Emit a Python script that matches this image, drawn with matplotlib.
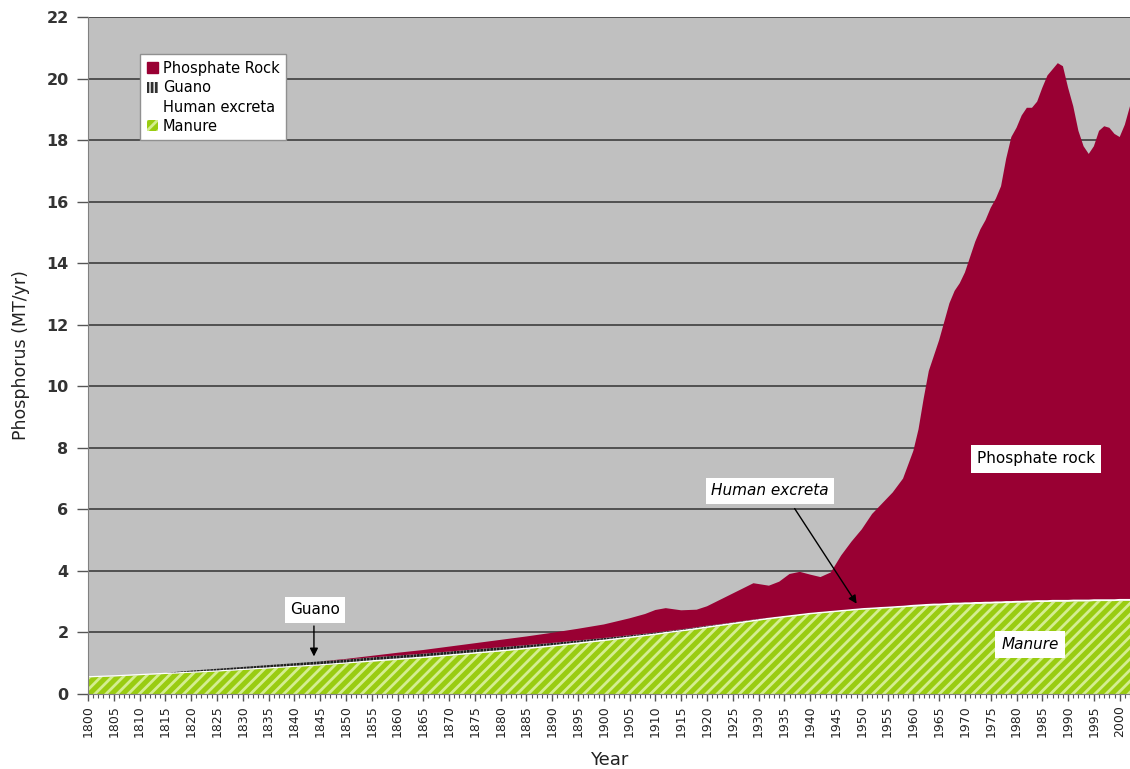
import matplotlib
matplotlib.use("Agg")
import matplotlib.pyplot as plt
from matplotlib.patches import Patch
from matplotlib.ticker import MultipleLocator

# ---------------- data ----------------
years = ([1800, 1805, 1810, 1815, 1820, 1825, 1830, 1835, 1840, 1845, 1850,
          1855, 1860, 1865, 1870, 1875, 1880, 1885, 1890, 1895, 1900]
         + [1905, 1908, 1910, 1912, 1915, 1918, 1920, 1923, 1926, 1929, 1932,
            1934, 1936, 1938, 1940, 1942, 1944, 1946, 1948, 1950, 1952, 1954,
            1956, 1958]
         + [1960, 1961, 1962, 1963, 1964, 1965, 1966, 1967, 1968, 1969, 1970,
            1971, 1972, 1973, 1974, 1975, 1976, 1977, 1978, 1979, 1980, 1981,
            1982, 1983, 1984, 1985, 1986, 1987, 1988, 1989, 1990, 1991, 1992,
            1993, 1994, 1995, 1996, 1997, 1998, 1999, 2000, 2001, 2002])

manure = ([0.54, 0.57, 0.61, 0.65, 0.69, 0.73, 0.78, 0.83, 0.88, 0.93, 0.99,
           1.05, 1.11, 1.17, 1.24, 1.31, 1.38, 1.46, 1.54, 1.63, 1.72]
          + [1.82, 1.88, 1.92, 1.97, 2.03, 2.10, 2.15, 2.22, 2.29, 2.36, 2.43,
             2.47, 2.51, 2.55, 2.59, 2.62, 2.65, 2.68, 2.71, 2.74, 2.76, 2.78,
             2.80, 2.82]
          + [2.84, 2.85, 2.86, 2.87, 2.88, 2.88, 2.89, 2.90, 2.91, 2.91, 2.92,
             2.92, 2.93, 2.93, 2.94, 2.94, 2.95, 2.95, 2.96, 2.96, 2.97, 2.97,
             2.98, 2.98, 2.99, 2.99, 2.99, 3.00, 3.00, 3.00, 3.00, 3.01, 3.01,
             3.01, 3.01, 3.02, 3.02, 3.02, 3.02, 3.02, 3.03, 3.03, 3.03])

human_excreta = ([0.04, 0.04, 0.04, 0.04, 0.04, 0.04, 0.04, 0.04, 0.04, 0.04, 0.04,
                  0.05, 0.05, 0.05, 0.05, 0.05, 0.05, 0.05, 0.05, 0.05, 0.05]
                 + [0.05, 0.05, 0.05, 0.05, 0.05, 0.05, 0.05, 0.05, 0.05, 0.05, 0.05,
                    0.05, 0.05, 0.05, 0.05, 0.05, 0.05, 0.05, 0.05, 0.05, 0.05, 0.05,
                    0.05, 0.05]
                 + [0.06, 0.06, 0.06, 0.06, 0.06, 0.06, 0.06, 0.06, 0.06, 0.06, 0.06,
                    0.06, 0.06, 0.06, 0.06, 0.06, 0.06, 0.06, 0.06, 0.06, 0.06, 0.06,
                    0.06, 0.06, 0.06, 0.06, 0.06, 0.06, 0.06, 0.06, 0.06, 0.06, 0.06,
                    0.06, 0.06, 0.06, 0.06, 0.06, 0.06, 0.06, 0.06, 0.06, 0.06])

guano = ([0.0, 0.0, 0.0, 0.0, 0.03, 0.05, 0.06, 0.07, 0.08, 0.09, 0.09,
          0.09, 0.09, 0.09, 0.09, 0.09, 0.09, 0.08, 0.07, 0.06, 0.05]
         + [0.04, 0.03, 0.03, 0.02, 0.02, 0.02, 0.02, 0.01, 0.01, 0.01, 0.0,
            0.0, 0.0, 0.0, 0.0, 0.0, 0.0, 0.0, 0.0, 0.0, 0.0, 0.0,
            0.0, 0.0]
         + [0.0, 0.0, 0.0, 0.0, 0.0, 0.0, 0.0, 0.0, 0.0, 0.0, 0.0,
            0.0, 0.0, 0.0, 0.0, 0.0, 0.0, 0.0, 0.0, 0.0, 0.0, 0.0,
            0.0, 0.0, 0.0, 0.0, 0.0, 0.0, 0.0, 0.0, 0.0, 0.0, 0.0,
            0.0, 0.0, 0.0, 0.0, 0.0, 0.0, 0.0, 0.0, 0.0, 0.0])

phosphate_rock = ([0.0, 0.0, 0.0, 0.0, 0.0, 0.0, 0.0, 0.0, 0.0, 0.0, 0.02,
                   0.05, 0.09, 0.12, 0.16, 0.20, 0.24, 0.28, 0.33, 0.38, 0.44]
                  + [0.55, 0.64, 0.73, 0.75, 0.62, 0.57, 0.63, 0.82, 1.00, 1.18, 1.04,
                     1.13, 1.34, 1.37, 1.24, 1.13, 1.25, 1.77, 2.19, 2.56, 3.04, 3.37,
                     3.70, 4.13]
                  + [5.00, 5.69, 6.68, 7.57, 8.06, 8.56, 9.15, 9.74, 10.13, 10.38, 10.72,
                     11.22, 11.71, 12.11, 12.40, 12.80, 13.09, 13.49, 14.38, 15.08, 15.37, 15.77,
                     16.01, 16.01, 16.20, 16.65, 17.05, 17.24, 17.44, 17.34, 16.64, 16.03, 15.23,
                     14.73, 14.48, 14.72, 15.22, 15.37, 15.32, 15.12, 15.01, 15.41, 16.01])

series_names = ["Manure", "Human excreta", "Guano", "Phosphate Rock"]
x_tick_years = list(range(1800, 2001, 5))
y_ticks = [0, 2, 4, 6, 8, 10, 12, 14, 16, 18, 20, 22]

# ---------------- style ----------------
ROCK = "#990033"
GREEN = "#99cc11"
GREEN_LIGHT = "#d4ee90"
BG = "#c0c0c0"

plt.rcParams["font.family"] = ["DejaVu Sans"]
plt.rcParams["hatch.linewidth"] = 2.0

fig = plt.figure(figsize=(11.3, 7.69), dpi=100)
ax = fig.add_axes([88 / 1130, 75 / 769, 1042 / 1130, 677 / 769])
ax.set_facecolor(BG)

polys = ax.stackplot(years, manure, human_excreta, guano, phosphate_rock,
                     colors=[GREEN, "white", BG, ROCK], linewidth=0)
polys[0].set_hatch("///")
polys[0].set_edgecolor(GREEN_LIGHT)
polys[0].set_linewidth(0)
polys[2].set_hatch("|||||")
polys[2].set_edgecolor("#202020")
polys[2].set_linewidth(0)

ax.set_xlim(1800, 2002)
ax.set_ylim(0, 22)
ax.set_yticks(y_ticks)
ax.set_xticks(x_tick_years)
ax.set_xticklabels([str(y) for y in x_tick_years], rotation=90, fontsize=9, color="#222222")
ax.xaxis.set_minor_locator(MultipleLocator(1))
ax.tick_params(axis="x", which="major", length=5, width=1, color="#555555", pad=3)
ax.tick_params(axis="x", which="minor", length=3, width=0.8, color="#555555")
ax.tick_params(axis="y", length=8, width=1, color="#555555", labelsize=11.5,
               labelcolor="#333333", pad=6)
for lab in ax.get_yticklabels():
    lab.set_fontweight("bold")

ax.yaxis.grid(True, color="#333333", linewidth=1.1)
ax.set_axisbelow(True)
for s in ["top", "right"]:
    ax.spines[s].set_visible(False)
ax.spines["left"].set_color("#808080")
ax.spines["bottom"].set_color("#808080")

ax.set_ylabel("Phosphorus (MT/yr)", fontsize=12.5, color="#222222", labelpad=12)
ax.set_xlabel("Year", fontsize=13, color="#222222", labelpad=10)

# legend
handles = [
    Patch(facecolor=ROCK, edgecolor=ROCK, label="Phosphate Rock"),
    Patch(facecolor="white", edgecolor="#303030", hatch="||||", linewidth=0, label="Guano"),
    Patch(facecolor="white", edgecolor="white", label="Human excreta"),
    Patch(facecolor=GREEN, edgecolor=GREEN_LIGHT, hatch="///", linewidth=0, label="Manure"),
]
leg = ax.legend(handles=handles, loc="upper left", bbox_to_anchor=(0.05, 0.945),
                fontsize=10.5, frameon=True, fancybox=False, framealpha=1,
                facecolor="white", handlelength=0.8, handleheight=0.8,
                handletextpad=0.3, labelspacing=0.3, borderpad=0.45,
                borderaxespad=0)
leg.get_frame().set_edgecolor("#909090")
leg.get_frame().set_linewidth(1.0)

ax.text(1844.0, 2.73, "Guano", fontsize=11, ha="center", va="center",
        bbox=dict(boxstyle="square,pad=0.35", facecolor="white", edgecolor="none"))
ax.annotate("", xy=(1843.8, 1.13), xytext=(1843.8, 2.3),
            arrowprops=dict(arrowstyle="-|>", color="black", lw=1.0, mutation_scale=12))
ax.text(1932.2, 6.6, "Human excreta", fontsize=11, style="italic", ha="center",
        va="center", bbox=dict(boxstyle="square,pad=0.35", facecolor="white", edgecolor="none"))
ax.annotate("", xy=(1949.3, 2.86), xytext=(1936.7, 6.1),
            arrowprops=dict(arrowstyle="-|>", color="black", lw=1.0, mutation_scale=12))
ax.text(1983.8, 7.64, "Phosphate rock", fontsize=11, ha="center", va="center",
        bbox=dict(boxstyle="square,pad=0.4", facecolor="white", edgecolor="none"))
ax.text(1982.6, 1.62, "Manure", fontsize=11, style="italic", ha="center", va="center",
        bbox=dict(boxstyle="square,pad=0.4", facecolor="white", edgecolor="none"))

fig.savefig("out.png", dpi=100)
